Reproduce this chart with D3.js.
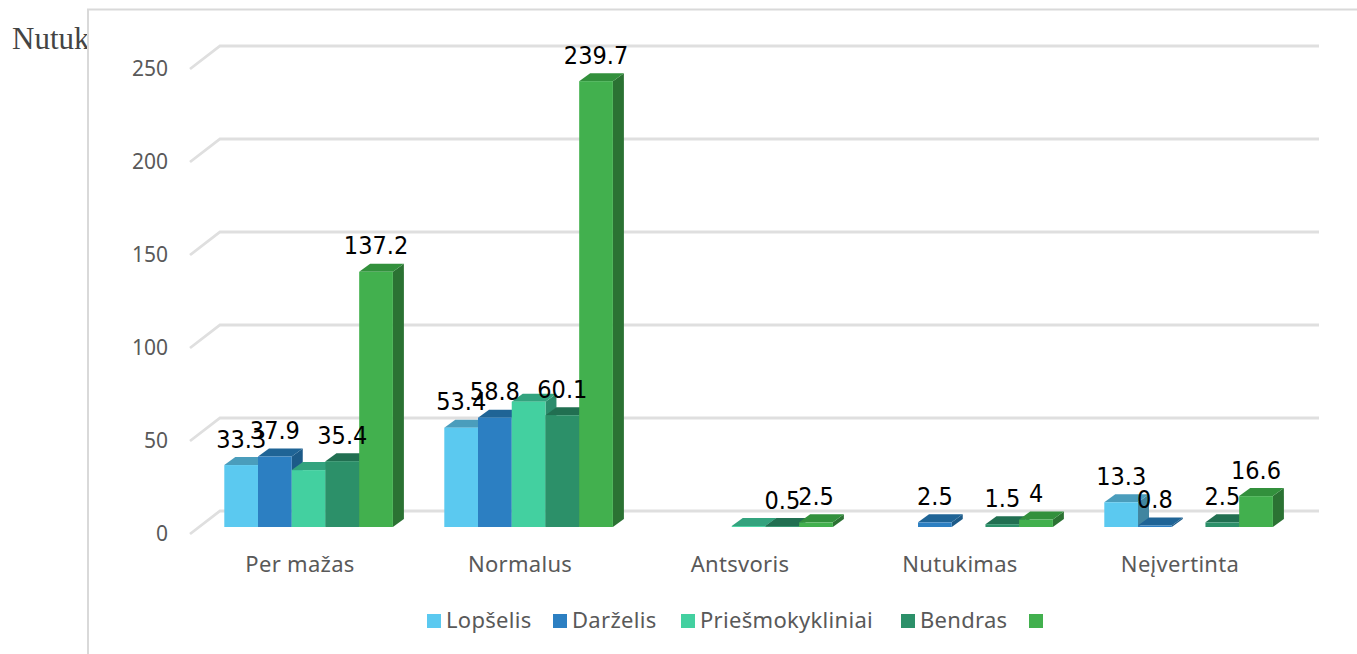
<!DOCTYPE html>
<html><head><meta charset="utf-8">
<script src="https://cdn.jsdelivr.net/npm/d3@7"></script>
<style>html,body{margin:0;padding:0;background:#fff;overflow:hidden}svg{display:block}</style>
</head><body><div id="c"></div>
<script>
const categories = ["Per mažas","Normalus","Antsvoris","Nutukimas","Neįvertinta"];
const seriesNames = ["Lopšelis","Darželis","Priešmokykliniai","Bendras",""];
const lopselis = [33.3,53.4,null,null,13.3];
const darzelis = [37.9,58.8,null,2.5,0.8];
const priesmokykliniai = [30.6,67.4,0.5,null,null];
const bendras = [35.4,60.1,0.5,1.5,2.5];
const viso = [137.2,239.7,2.5,4,16.6];
const seriesValues = [lopselis,darzelis,priesmokykliniai,bendras,viso];
const labelled = [true,true,false,true,true];
const colors = ["#5bc9f0","#2c7fc2","#43d0a0","#2c9069","#42b04e"];
const topColors = ["#4a9dbc","#1f6496","#33a37e","#216f51","#32903c"];
const sideColors = ["#4185a0","#1c5a88","#2c8c6c","#1d6046","#2b7233"];
const ticks = [0,50,100,150,200,250];

const W=1357,H=654;
const svg=d3.select("#c").append("svg").attr("width",W).attr("height",H);
const sans="'Noto Sans',sans-serif";

svg.append("defs").append("clipPath").attr("id","tc").append("rect").attr("x",0).attr("y",0).attr("width",88).attr("height",H);
svg.append("text").attr("clip-path","url(#tc)").attr("x",12).attr("y",49)
  .attr("font-family","'Liberation Serif',serif").attr("font-size",31).attr("fill","#444").text("Nutuk");
svg.append("path").attr("d",`M88,${H}V9.5H${W}`).attr("fill","none").attr("stroke","#d9d9d9").attr("stroke-width",2);

const depthX=30, depthY=-23, backRight=1319;
const y=d3.scaleLinear().domain([0,250]).range([534,69]);
const yBar=d3.scaleLinear().domain([0,250]).range([527,62]);
const x=d3.scaleBand().domain(categories).range([190,1290]).paddingInner(0.2336).paddingOuter(0.1168);
const inner=d3.scaleBand().domain(d3.range(5)).range([0,x.bandwidth()]);
const barShift=8.6, bdx=11, bdy=-8;

const grid=svg.append("g").attr("fill","none").attr("stroke","#dfdfdf").attr("stroke-width",2.8);
grid.selectAll("path").data(ticks).join("path")
  .attr("d",t=>`M${x.range()[0]},${y(t)}L${x.range()[0]+depthX},${y(t)+depthY}H${backRight}`);

svg.append("g").selectAll("text").data(ticks).join("text")
  .attr("x",168).attr("y",t=>y(t)).attr("dy","0.33em").attr("text-anchor","end")
  .attr("font-family",sans).attr("font-size",21).attr("fill","#595959").text(t=>t);

svg.append("g").selectAll("text").data(categories).join("text")
  .attr("x",c=>x(c)+x.bandwidth()/2).attr("y",572).attr("text-anchor","middle")
  .attr("font-family",sans).attr("font-size",22).attr("letter-spacing",0.3).attr("fill","#595959").text(c=>c);

const bars=[];
categories.forEach((c,ci)=>seriesValues.forEach((vals,si)=>{
  if(vals[ci]!=null) bars.push({c,si,v:vals[ci]});
}));
const barG=svg.append("g").selectAll("g").data(bars).join("g");
barG.each(function(d){
  const g=d3.select(this);
  const x0=x(d.c)+barShift+inner(d.si), w=inner.bandwidth();
  const y0=yBar(0), y1=yBar(d.v);
  g.append("path").attr("fill",sideColors[d.si])
    .attr("d",`M${x0+w},${y0}L${x0+w+bdx},${y0+bdy}V${y1+bdy}L${x0+w},${y1}Z`);
  g.append("path").attr("fill",topColors[d.si])
    .attr("d",`M${x0},${y1}L${x0+bdx},${y1+bdy}H${x0+w+bdx}L${x0+w},${y1}Z`);
  g.append("rect").attr("x",x0).attr("y",y1).attr("width",w).attr("height",y0-y1).attr("fill",colors[d.si]);
});

svg.append("g").selectAll("text").data(bars.filter(d=>labelled[d.si])).join("text")
  .attr("x",d=>x(d.c)+barShift+inner(d.si)+inner.bandwidth()/2)
  .attr("y",d=>yBar(d.v)-17.5).attr("text-anchor","middle")
  .attr("font-family","'DejaVu Sans Condensed','DejaVu Sans',sans-serif").attr("font-size",25).attr("fill","#000").text(d=>d.v);

const legendLeft=[427,553,681,901,1029];
const leg=svg.append("g");
seriesNames.forEach((n,i)=>{
  const lx=legendLeft[i];
  leg.append("rect").attr("x",lx).attr("y",614).attr("width",14).attr("height",14).attr("fill",colors[i]);
  leg.append("text").attr("x",lx+19).attr("y",628).attr("font-family",sans).attr("font-size",22).attr("letter-spacing",0.3).attr("fill","#595959").text(n);
});
</script></body></html>
